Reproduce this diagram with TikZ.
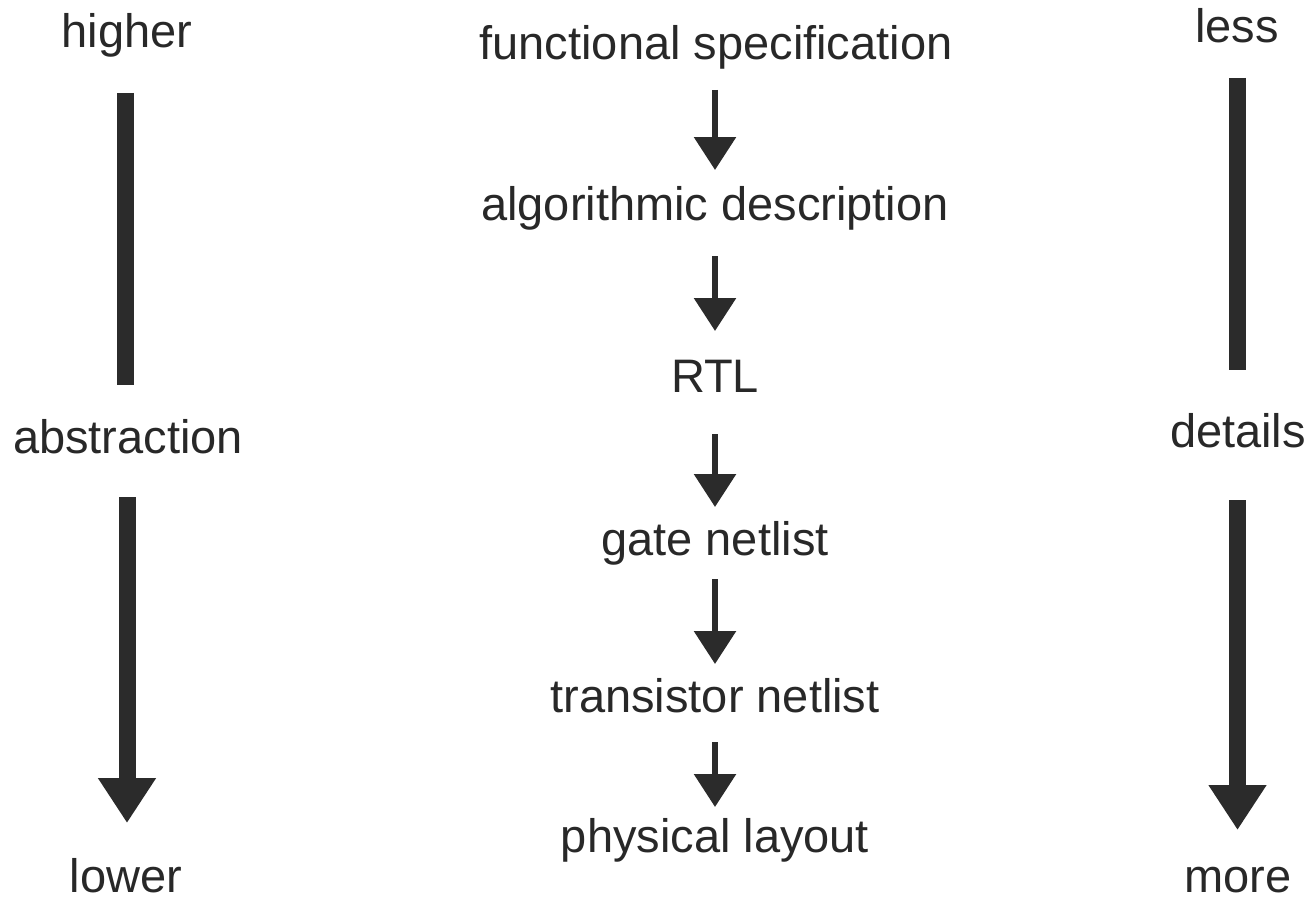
\documentclass[tikz,border=0pt]{standalone}
\usepackage{fontspec}
\setmainfont{Liberation Sans}
\usetikzlibrary{arrows.meta}
\definecolor{ink}{RGB}{43,43,43}
\definecolor{txt}{RGB}{40,40,40}
\tikzset{
  lbl/.style={anchor=base, inner sep=0pt, text=txt, font=\fontsize{23.5pt}{28pt}\selectfont},
  bigbar/.style={draw=ink, line width=8.5pt},
  bigarrow/.style={draw=ink, line width=8.5pt, -{Triangle[length=22.5pt, width=27.5pt]}},
  smallarrow/.style={draw=ink, line width=3pt, -{Triangle[length=16.5pt, width=20.5pt]}}
}
\begin{document}
\begin{tikzpicture}[x=0.5pt, y=-0.5pt]
\useasboundingbox[fill=white] (0,0) rectangle (1310,899);

% left column
\node[lbl] (higher) at (127,48) {higher};
\node[lbl] (abstr) at (128,453) {abstraction};
\node[lbl] (lower) at (126,892) {lower};
\coordinate (lb1) at (125,93);
\coordinate (lb2) at (125,385);
\coordinate (la1) at (127,497);
\coordinate (la2) at (127,823);
\draw[bigbar] (lb1) -- (lb2);
\draw[bigarrow] (la1) -- (la2);

% right column
\node[lbl] (less) at (1237,43) {less};
\node[lbl] (details) at (1238,447) {details};
\node[lbl] (more) at (1238,892) {more};
\coordinate (rb1) at (1237.5,78);
\coordinate (rb2) at (1237.5,370);
\coordinate (ra1) at (1237.5,500);
\coordinate (ra2) at (1237.5,830);
\draw[bigbar] (rb1) -- (rb2);
\draw[bigarrow] (ra1) -- (ra2);

% middle column
\node[lbl] (fs) at (716,60) {functional specification};
\node[lbl] (ad) at (715,220) {algorithmic description};
\node[lbl] (rtl) at (715,392) {RTL};
\node[lbl] (gn) at (715,555) {gate netlist};
\node[lbl] (tn) at (715,712) {transistor netlist};
\node[lbl] (pl) at (715,852) {physical layout};

\coordinate (m1a) at (715,90);  \coordinate (m1b) at (715,170);
\coordinate (m2a) at (715,256); \coordinate (m2b) at (715,331);
\coordinate (m3a) at (715,434); \coordinate (m3b) at (715,507);
\coordinate (m4a) at (715,579); \coordinate (m4b) at (715,664);
\coordinate (m5a) at (715,742); \coordinate (m5b) at (715,807);
\draw[smallarrow] (m1a) -- (m1b);
\draw[smallarrow] (m2a) -- (m2b);
\draw[smallarrow] (m3a) -- (m3b);
\draw[smallarrow] (m4a) -- (m4b);
\draw[smallarrow] (m5a) -- (m5b);
\end{tikzpicture}
\end{document}
